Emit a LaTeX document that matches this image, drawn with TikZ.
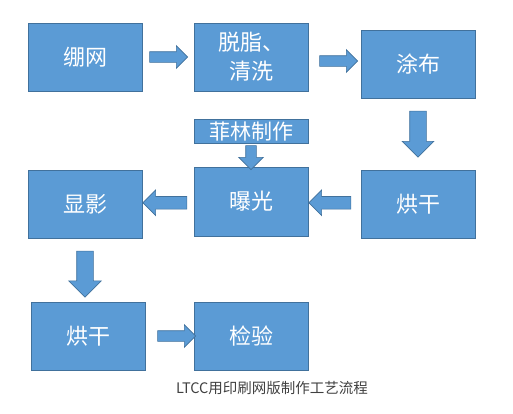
\documentclass[tikz,border=0pt]{standalone}
\usepackage{fontspec}
\newfontfamily\cjk{Noto Sans CJK SC}
\usepackage{xcolor}
\usetikzlibrary{shapes.arrows, positioning, calc}

\definecolor{boxblue}{HTML}{5B9BD5}
\definecolor{boxedge}{HTML}{41719C}
\definecolor{captiongray}{HTML}{404040}

\tikzset{
  stepbox/.style={draw=boxedge, fill=boxblue, line width=0.8pt, rectangle,
    minimum width=114pt, minimum height=68pt, inner sep=0pt,
    text=white, font=\cjk\fontsize{22}{29}\selectfont, align=center},
  blockarrow/.style={draw=boxedge, fill=boxblue, line width=0.6pt, single arrow,
    inner xsep=0pt, single arrow tip angle=90, single arrow head indent=0pt}
}

\begin{document}
\begin{tikzpicture}[x=1pt, y=-1pt]
    % Frame
    \useasboundingbox (0,0) rectangle (513,413);

    % Top row
    \node[stepbox] (stretch) at (85,57) {绷网};
    \node[stepbox] (degrease) at (251,57) {脱脂、\\清洗};
    \node[stepbox] (coat) at (418,64) {涂布};

    % Middle row
    \node[stepbox, minimum height=24pt, font=\cjk\fontsize{21}{24}\selectfont] (film) at (251,131) {菲林制作};
    \node[stepbox, minimum height=69pt] (expose) at (251,201.5) {曝光};
    \node[stepbox] (dryA) at (418,204) {烘干};
    \node[stepbox] (develop) at (85,204) {显影};

    % Bottom row
    \node[stepbox] (dryB) at (88,336) {烘干};
    \node[stepbox] (inspect) at (251,336) {检验};

    % Block arrows
    \node[blockarrow, minimum height=38pt, inner ysep=5pt, single arrow head extend=6pt]
        (a1) at ($(stretch.east)!0.5!(degrease.west) + (-2,0)$) {};
    \node[blockarrow, minimum height=38pt, inner ysep=5pt, single arrow head extend=6pt]
        (a2) at ($(degrease.east)!0.5!(coat.west) + (1.5,0.5)$) {};
    \node[blockarrow, minimum height=46pt, inner ysep=8pt, single arrow head extend=7.5pt, rotate=-90]
        (a3) at ($(coat.south)!0.5!(dryA.north) + (0,-4)$) {};
    \node[blockarrow, minimum height=24pt, inner ysep=5pt, single arrow head extend=7pt, rotate=-90]
        (a4) at ($(film.south)!0.5!(expose.north)$) {};
    \node[blockarrow, minimum height=42pt, inner ysep=6pt, single arrow head extend=6.5pt, rotate=180]
        (a5) at ($(dryA.west)!0.5!(expose.east) + (-1.5,0)$) {};
    \node[blockarrow, minimum height=44pt, inner ysep=6pt, single arrow head extend=6.5pt, rotate=180]
        (a6) at ($(expose.west)!0.5!(develop.east)$) {};
    \node[blockarrow, minimum height=46pt, inner ysep=8pt, single arrow head extend=8pt, rotate=-90]
        (a7) at ($(develop.south)!0.5!(dryB.north) + (-1.5,0)$) {};
    \node[blockarrow, minimum height=38pt, inner ysep=5pt, single arrow head extend=6pt]
        (a8) at ($(dryB.east)!0.5!(inspect.west) + (4.5,0)$) {};

    % Caption
    \node[text=captiongray, font=\cjk\fontsize{14.5}{16}\selectfont] (caption) at (272,388) {LTCC用印刷网版制作工艺流程};
\end{tikzpicture}
\end{document}
